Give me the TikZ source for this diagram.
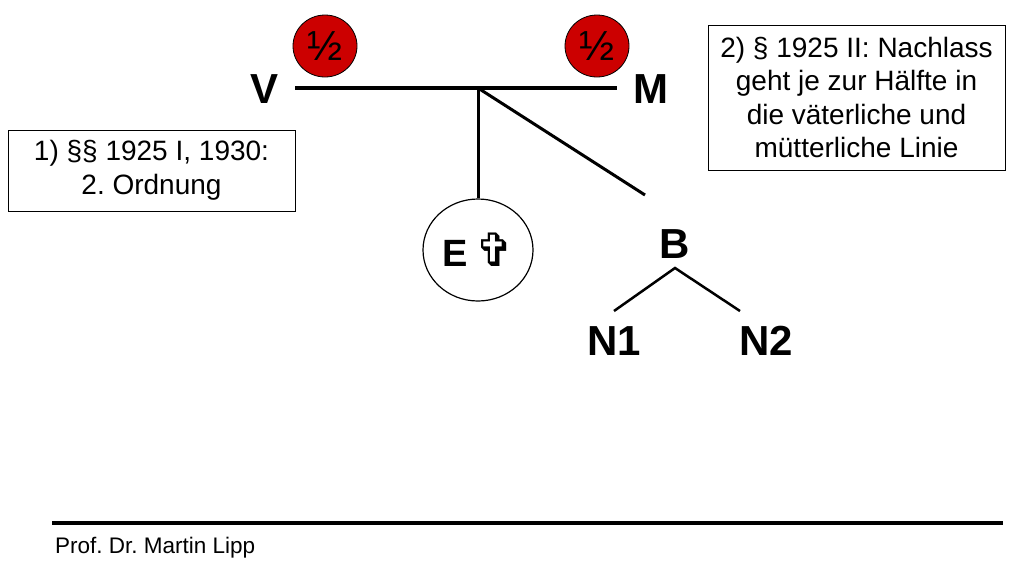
\documentclass[tikz,border=0pt]{standalone}
\usepackage{fontspec}
\setmainfont{Liberation Sans}
\newfontfamily\symfont{DejaVu Sans}
\usetikzlibrary{shapes.geometric}
\frenchspacing
\begin{document}
\begin{tikzpicture}[x=1pt,y=-1pt,
  person/.style={font=\fontsize{42}{48}\selectfont\bfseries,inner sep=0pt},
  note/.style={draw,line width=1pt,align=center,inner sep=0pt,
    font=\fontsize{28}{33.5}\selectfont},
  half/.style={ellipse,draw,line width=0.8pt,fill=red!80!black,inner sep=0pt,
    minimum width=64,minimum height=62,font=\fontsize{42}{44}\selectfont},
  stem/.style={line width=3pt},
  twig/.style={line width=2.5pt}]
\useasboundingbox (0,0) rectangle (1024,574);
% parents
\node[person] (V) at (265,89) {V};
\node[person] (M) at (651,89) {M};
\coordinate (lineL) at (295,88);
\coordinate (lineR) at (617,88);
\coordinate (junc) at (478,88);
\draw[line width=4pt] (lineL) -- (lineR);
\foreach \n/\x in {halfV/325,halfM/597}
  \node[half] (\n) at (\x,46) {½};
% children
\node[ellipse,draw,line width=1.2pt,minimum width=110,minimum height=102,inner sep=0pt]
  (E) at (478,250) {\fontsize{38}{40}\selectfont\bfseries E\hspace{8pt}{\symfont\fontsize{46}{48}\selectfont ✞}};
\draw[stem] (junc) -- (E.north);
\coordinate (diagEnd) at (645,195);
\draw[stem] (junc) -- (diagEnd);
\node[person] (B) at (675,244) {B};
\node[person] (N1) at (614,341) {N1};
\node[person] (N2) at (766,341) {N2};
\coordinate (fork) at (675,268);
\coordinate (n1top) at (614,311);
\coordinate (n2top) at (740,311);
\draw[twig] (n1top) -- (fork) -- (n2top);
% notes
\node[note,minimum width=287,minimum height=81] (note1) at (151.5,170.5)
  {1) §§ 1925 I, 1930:\\2. Ordnung};
\node[note,minimum width=297,minimum height=145] (note2) at (856.5,97.5)
  {2) § 1925 II: Nachlass\\geht je zur Hälfte in\\die väterliche und\\mütterliche Linie};
% footer
\coordinate (footL) at (52,523);
\coordinate (footR) at (1003,523);
\draw[line width=4pt] (footL) -- (footR);
\node[anchor=west,inner sep=0pt,font=\fontsize{22.5}{24}\selectfont] (author) at (55,548) {Prof. Dr. Martin Lipp};
\end{tikzpicture}
\end{document}
